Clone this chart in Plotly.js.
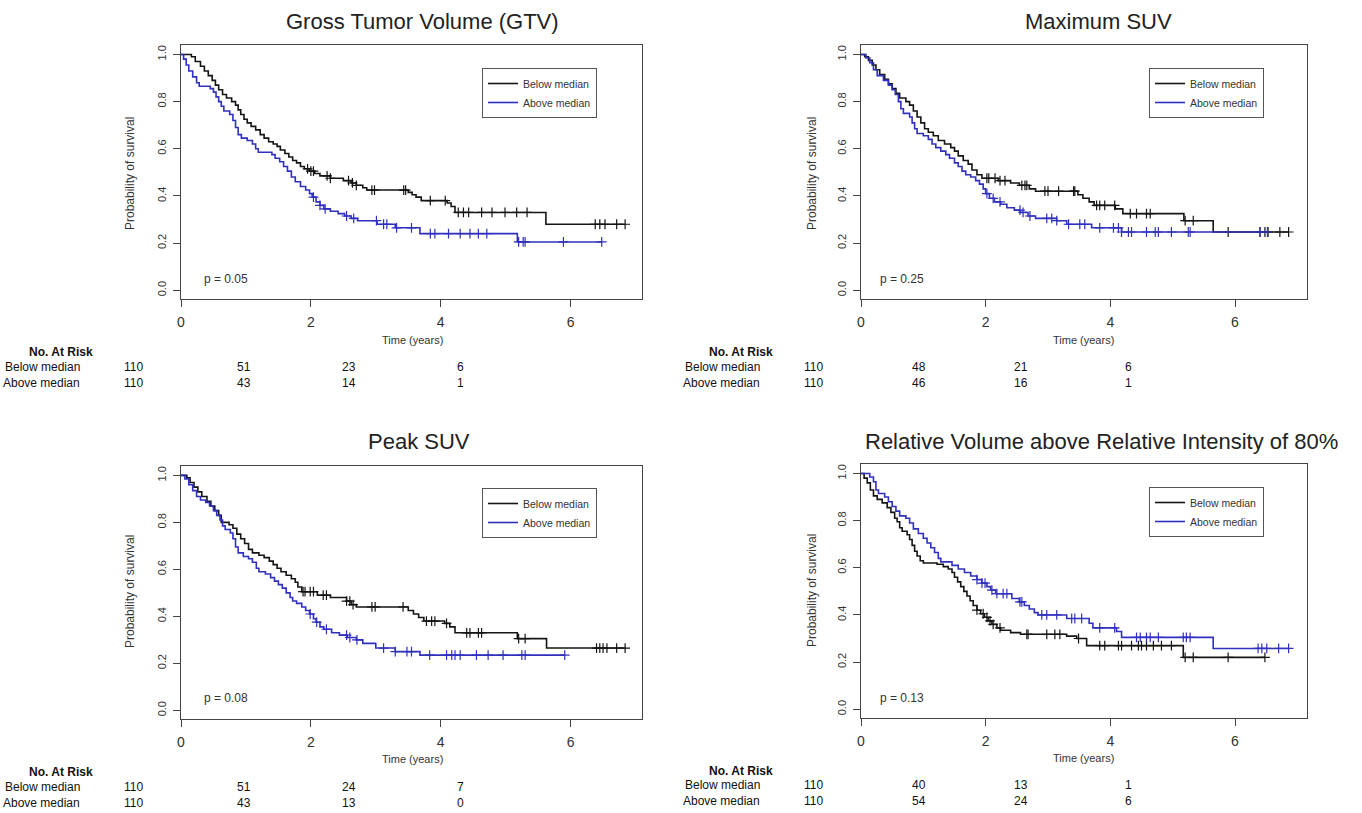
<!DOCTYPE html>
<html>
<head>
<meta charset="utf-8">
<script src="https://cdn.plot.ly/plotly-3.0.1.min.js"></script>
<style>
html,body{margin:0;padding:0;background:#fff;}
#chart{width:1362px;height:813px;}
</style>
</head>
<body>
<div id="chart"></div>
<script>
// ---------------- DATA ----------------
const panelTitles = ["Gross Tumor Volume (GTV)", "Maximum SUV", "Peak SUV", "Relative Volume above Relative Intensity of 80%"];
const pValues = ["0.05", "0.25", "0.08", "0.13"];
const groupNames = ["Below median", "Above median"];
const xTickVals = [0, 2, 4, 6];
const yTickVals = [0, 0.2, 0.4, 0.6, 0.8, 1.0];

// numbers at risk (at 0, 2, 4, 6 years)
const gtvRiskBelow = [110, 51, 23, 6];
const gtvRiskAbove = [110, 43, 14, 1];
const maxRiskBelow = [110, 48, 21, 6];
const maxRiskAbove = [110, 46, 16, 1];
const peakRiskBelow = [110, 51, 24, 7];
const peakRiskAbove = [110, 43, 13, 0];
const rvRiskBelow = [110, 40, 13, 1];
const rvRiskAbove = [110, 54, 24, 6];

// Panel 1: GTV
const gtvBelowTimes = [0.16,0.22,0.30,0.36,0.42,0.48,0.53,0.58,0.64,0.70,0.78,0.84,0.88,0.92,0.97,1.02,1.08,1.15,1.22,1.28,1.35,1.42,1.48,1.53,1.60,1.66,1.72,1.78,1.84,1.90,1.98,2.06,2.14,2.30,2.50,2.62,2.70,2.80,2.86,3.50,3.56,3.62,3.70,4.10,4.16,4.22,5.62];
const gtvBelowSurv  = [0.99,0.97,0.95,0.93,0.91,0.89,0.87,0.85,0.83,0.815,0.80,0.785,0.765,0.745,0.725,0.71,0.695,0.68,0.66,0.645,0.63,0.62,0.61,0.595,0.58,0.565,0.55,0.54,0.525,0.515,0.505,0.495,0.485,0.475,0.465,0.455,0.445,0.435,0.425,0.415,0.405,0.395,0.38,0.37,0.355,0.33,0.28];
const gtvBelowCens  = [1.95,2.0,2.04,2.25,2.3,2.58,2.64,2.7,2.94,2.98,3.43,3.46,3.84,4.07,4.27,4.35,4.43,4.63,4.79,4.99,5.17,5.33,6.38,6.45,6.53,6.71,6.84];
const gtvAboveTimes = [0.04,0.08,0.12,0.18,0.24,0.28,0.45,0.50,0.54,0.58,0.62,0.66,0.75,0.80,0.84,0.88,0.93,1.02,1.10,1.15,1.19,1.40,1.45,1.52,1.58,1.64,1.70,1.76,1.84,1.92,1.98,2.02,2.08,2.14,2.20,2.30,2.42,2.52,2.62,2.72,3.02,3.30,3.68,5.18];
const gtvAboveSurv  = [0.98,0.955,0.93,0.905,0.88,0.865,0.855,0.84,0.82,0.80,0.78,0.76,0.745,0.72,0.69,0.66,0.645,0.635,0.62,0.60,0.585,0.575,0.56,0.545,0.525,0.505,0.48,0.46,0.44,0.425,0.41,0.395,0.375,0.36,0.345,0.335,0.325,0.315,0.305,0.295,0.28,0.265,0.24,0.205];
const gtvAboveCens  = [2.04,2.14,2.22,2.55,2.66,3.01,3.12,3.17,3.32,3.55,3.84,3.91,4.12,4.3,4.45,4.58,4.71,5.2,5.27,5.3,5.89,6.48];

// Panel 2: Maximum SUV
const maxBelowTimes = [0.06,0.12,0.18,0.24,0.30,0.38,0.44,0.50,0.56,0.62,0.72,0.78,0.84,0.90,0.96,1.02,1.08,1.16,1.24,1.34,1.44,1.50,1.56,1.64,1.72,1.78,1.86,1.94,2.20,2.40,2.54,2.70,2.80,3.48,3.56,3.66,3.74,4.08,4.20,5.18,5.65];
const maxBelowSurv  = [0.99,0.975,0.955,0.935,0.915,0.895,0.875,0.855,0.835,0.815,0.80,0.785,0.76,0.735,0.71,0.685,0.67,0.655,0.635,0.62,0.605,0.59,0.57,0.55,0.535,0.51,0.49,0.475,0.465,0.455,0.445,0.43,0.42,0.405,0.39,0.375,0.36,0.345,0.325,0.295,0.247];
const maxBelowCens  = [2.02,2.05,2.15,2.23,2.31,2.58,2.63,2.66,2.95,3.0,3.17,3.41,3.43,3.78,3.83,3.91,4.07,4.32,4.42,4.58,4.64,5.2,5.33,5.89,6.4,6.48,6.53,6.72,6.86];
const maxAboveTimes = [0.08,0.14,0.20,0.26,0.36,0.44,0.50,0.55,0.60,0.64,0.68,0.78,0.82,0.86,0.90,1.00,1.08,1.14,1.20,1.28,1.36,1.42,1.50,1.56,1.62,1.68,1.76,1.84,1.90,1.96,2.00,2.06,2.14,2.24,2.34,2.46,2.56,2.68,2.80,3.14,3.30,3.70,4.18];
const maxAboveSurv  = [0.985,0.965,0.935,0.91,0.89,0.87,0.85,0.83,0.80,0.77,0.75,0.735,0.71,0.685,0.665,0.655,0.64,0.62,0.605,0.59,0.575,0.56,0.54,0.525,0.505,0.49,0.48,0.465,0.45,0.43,0.41,0.39,0.375,0.365,0.35,0.34,0.33,0.315,0.305,0.295,0.28,0.265,0.247];
const maxAboveCens  = [2.02,2.12,2.23,2.55,2.6,2.71,2.98,3.06,3.14,3.33,3.51,3.59,3.83,4.05,4.13,4.18,4.29,4.34,4.58,4.72,4.77,4.98,5.25,5.28,6.4,6.52];

// Panel 3: Peak SUV
const peakBelowTimes = [0.09,0.14,0.20,0.26,0.32,0.40,0.46,0.52,0.58,0.62,0.74,0.80,0.86,0.92,0.98,1.04,1.10,1.20,1.28,1.36,1.42,1.48,1.54,1.62,1.70,1.76,1.80,1.86,2.10,2.30,2.55,2.62,2.70,3.50,3.58,3.66,3.74,4.06,4.14,4.22,5.18,5.63];
const peakBelowSurv  = [0.99,0.97,0.95,0.93,0.91,0.89,0.87,0.85,0.83,0.80,0.79,0.775,0.75,0.73,0.71,0.685,0.67,0.66,0.65,0.635,0.62,0.605,0.59,0.575,0.56,0.545,0.525,0.505,0.49,0.48,0.465,0.45,0.44,0.425,0.41,0.395,0.38,0.37,0.355,0.33,0.305,0.265];
const peakBelowCens  = [1.88,1.91,1.99,2.04,2.19,2.24,2.55,2.6,2.65,2.94,2.99,3.42,3.78,3.86,3.91,4.09,4.4,4.45,4.58,4.63,5.2,5.3,6.4,6.45,6.5,6.56,6.71,6.84];
const peakAboveTimes = [0.06,0.12,0.18,0.24,0.30,0.38,0.44,0.50,0.55,0.60,0.64,0.68,0.76,0.80,0.84,0.88,0.96,1.04,1.10,1.16,1.20,1.30,1.38,1.44,1.50,1.56,1.62,1.68,1.72,1.78,1.86,1.92,1.98,2.04,2.08,2.14,2.20,2.32,2.44,2.56,2.70,2.80,3.00,3.30,3.68];
const peakAboveSurv  = [0.985,0.96,0.935,0.91,0.895,0.885,0.87,0.85,0.83,0.81,0.785,0.77,0.755,0.73,0.695,0.67,0.655,0.645,0.63,0.605,0.59,0.58,0.565,0.55,0.535,0.52,0.50,0.48,0.465,0.455,0.44,0.425,0.41,0.39,0.375,0.355,0.345,0.33,0.32,0.31,0.30,0.285,0.265,0.25,0.235];
const peakAboveCens  = [1.99,2.09,2.24,2.55,2.6,2.71,3.12,3.3,3.48,3.55,3.83,4.09,4.17,4.22,4.3,4.55,4.73,4.96,5.25,5.3,5.91];

// Panel 4: Relative volume above relative intensity of 80%
const rvBelowTimes = [0.05,0.10,0.15,0.20,0.26,0.34,0.42,0.48,0.54,0.58,0.62,0.66,0.74,0.78,0.82,0.86,0.90,0.95,1.00,1.22,1.32,1.40,1.46,1.50,1.55,1.60,1.65,1.70,1.75,1.80,1.86,1.92,1.98,2.04,2.10,2.18,2.24,2.40,2.56,3.30,3.46,3.62,5.17];
const rvBelowSurv  = [0.98,0.96,0.93,0.905,0.89,0.875,0.855,0.835,0.81,0.795,0.77,0.755,0.74,0.72,0.695,0.67,0.65,0.63,0.62,0.615,0.605,0.595,0.58,0.56,0.54,0.52,0.50,0.48,0.46,0.44,0.42,0.405,0.39,0.375,0.36,0.345,0.335,0.325,0.318,0.31,0.30,0.27,0.22];
const rvBelowCens  = [1.86,1.96,2.02,2.07,2.12,2.23,2.66,2.68,2.98,3.11,3.19,3.49,3.83,3.91,4.13,4.18,4.34,4.45,4.5,4.58,4.69,4.82,4.98,5.2,5.33,5.89,6.48];
const rvAboveTimes = [0.14,0.20,0.24,0.28,0.38,0.44,0.50,0.56,0.62,0.72,0.78,0.84,0.92,1.00,1.06,1.12,1.18,1.24,1.28,1.46,1.56,1.66,1.76,1.86,1.94,2.02,2.08,2.16,2.42,2.54,2.62,2.70,2.78,2.84,3.30,3.66,3.72,4.10,4.18,5.65];
const rvAboveSurv  = [0.985,0.965,0.93,0.915,0.90,0.88,0.86,0.84,0.82,0.81,0.79,0.765,0.745,0.725,0.705,0.685,0.665,0.64,0.625,0.61,0.595,0.58,0.565,0.55,0.535,0.52,0.505,0.49,0.47,0.455,0.44,0.425,0.41,0.40,0.385,0.365,0.345,0.33,0.305,0.258];
const rvAboveCens  = [1.86,1.94,1.99,2.1,2.18,2.28,2.34,2.55,2.58,2.9,2.98,3.14,3.38,3.43,3.54,3.83,4.07,4.42,4.48,4.58,4.64,4.77,5.17,5.22,5.28,6.37,6.43,6.51,6.7,6.86];

// ---------------- BUILD ----------------
const W = 1362, H = 813;
const FONT = "Liberation Sans, Arial, Helvetica, sans-serif";
const colBelow = "#151515";
const colAbove = "#3030bf";
const px = p => p / W;
const py = p => 1 - p / H;

const panels = [
  {below:[gtvBelowTimes, gtvBelowSurv, gtvBelowCens], above:[gtvAboveTimes, gtvAboveSurv, gtvAboveCens], risk:[gtvRiskBelow, gtvRiskAbove]},
  {below:[maxBelowTimes, maxBelowSurv, maxBelowCens], above:[maxAboveTimes, maxAboveSurv, maxAboveCens], risk:[maxRiskBelow, maxRiskAbove]},
  {below:[peakBelowTimes, peakBelowSurv, peakBelowCens], above:[peakAboveTimes, peakAboveSurv, peakAboveCens], risk:[peakRiskBelow, peakRiskAbove]},
  {below:[rvBelowTimes, rvBelowSurv, rvBelowCens], above:[rvAboveTimes, rvAboveSurv, rvAboveCens], risk:[rvRiskBelow, rvRiskAbove]}
];

// layout geometry (pixels)
const geom = [
  {x0:181, x1:642, y0:45,  y1:299, xmax:7.10, legend:[482,68],  title:[422,22],  p:[202,279], xt:[412,340], yt:[130,174], riskX:[133,244,349,460], riskHead:[61,352], riskLabelX:82, riskY:[367,383]},
  {x0:861, x1:1307, y0:45, y1:299, xmax:7.155, legend:[1149,68], title:[1098,22], p:[878,279], xt:[1083,340], yt:[812,174], riskX:[813,919,1021,1128], riskHead:[741,352], riskLabelX:762, riskY:[367,383]},
  {x0:181, x1:642, y0:466, y1:719, xmax:7.10, legend:[482,488], title:[419,442], p:[202,698], xt:[412,759], yt:[130,592], riskX:[133,244,349,460], riskHead:[61,772], riskLabelX:82, riskY:[787,803]},
  {x0:861, x1:1307, y0:464, y1:718, xmax:7.155, legend:[1149,487], title:[1101,441], p:[878,698], xt:[1083,758], yt:[812,591], riskX:[813,919,1021,1128], riskHead:[741,771], riskLabelX:762, riskY:[785,801]}
];

function stepValue(times, surv, t) {
  let v = 1;
  for (let i = 0; i < times.length; i++) { if (times[i] <= t) v = surv[i]; else break; }
  return v;
}

const traces = [];
const layout = {
  width: W, height: H,
  margin: {l:0, r:0, t:0, b:0},
  paper_bgcolor: "#fff", plot_bgcolor: "#fff",
  font: {family: FONT, color: "#222"},
  showlegend: true,
  annotations: []
};

panels.forEach((pan, i) => {
  const g = geom[i];
  const sfx = i === 0 ? "" : String(i + 1);
  const xa = "x" + sfx, ya = "y" + sfx;
  const legId = "legend" + sfx;

  [["below", colBelow, 0], ["above", colAbove, 1]].forEach(([key, col, gi]) => {
    const [T, S, C] = pan[key];
    const end = Math.max(...C, T[T.length - 1]);
    traces.push({
      type: "scatter", mode: "lines",
      x: [0, ...T, end], y: [1, ...S, S[S.length - 1]],
      line: {shape: "hv", color: col, width: 1.6},
      name: groupNames[gi], xaxis: xa, yaxis: ya, legend: legId,
      hoverinfo: "x+y"
    });
    traces.push({
      type: "scatter", mode: "markers",
      x: C, y: C.map(t => stepValue(T, S, t)),
      marker: {symbol: "cross-thin", size: 7, color: col, line: {color: col, width: 1.2}},
      showlegend: false, xaxis: xa, yaxis: ya, hoverinfo: "x+y"
    });
  });

  layout["xaxis" + sfx] = {
    domain: [px(g.x0), px(g.x1)], anchor: ya,
    range: [0, g.xmax], tickvals: xTickVals, ticktext: xTickVals.map(String),
    ticks: "outside", ticklen: 7, tickcolor: "#444", tickwidth: 1,
    ticklabelstandoff: 3,
    showline: true, mirror: true, linecolor: "#444", linewidth: 1,
    showgrid: false, zeroline: false, fixedrange: true,
    tickfont: {size: 14, family: FONT, color: "#333"}
  };
  layout["yaxis" + sfx] = {
    domain: [py(g.y1), py(g.y0)], anchor: xa,
    range: [-0.037, 1.04], tickvals: yTickVals, ticktext: yTickVals.map(v => v.toFixed(1)),
    tickangle: -90,
    ticks: "outside", ticklen: 7, tickcolor: "#444", tickwidth: 1,
    ticklabelstandoff: 3,
    showline: true, mirror: true, linecolor: "#444", linewidth: 1,
    showgrid: false, zeroline: false, fixedrange: true,
    tickfont: {size: 11, family: FONT, color: "#333"}
  };
  layout[legId] = {
    x: px(g.legend[0]), y: py(g.legend[1]), xanchor: "left", yanchor: "top",
    xref: "paper", yref: "paper",
    bordercolor: "#555", borderwidth: 1, bgcolor: "#fff",
    font: {size: 10.5, family: FONT, color: "#333"},
    itemwidth: 30, tracegroupgap: 0, traceorder: "normal"
  };

  const A = layout.annotations;
  A.push({text: panelTitles[i], x: px(g.title[0]), y: py(g.title[1]), xref: "paper", yref: "paper",
          xanchor: "center", yanchor: "middle", showarrow: false, font: {size: 22, family: FONT, color: "#222"}});
  A.push({text: "p = " + pValues[i], x: px(g.p[0]), y: py(g.p[1]), xref: "paper", yref: "paper",
          xanchor: "left", yanchor: "middle", showarrow: false, font: {size: 12, family: FONT, color: "#333"}});
  A.push({text: "Time (years)", x: px(g.xt[0]), y: py(g.xt[1]), xref: "paper", yref: "paper",
          xanchor: "center", yanchor: "middle", showarrow: false, font: {size: 11, family: FONT, color: "#333"}});
  A.push({text: "Probability of survival", x: px(g.yt[0]), y: py(g.yt[1]), xref: "paper", yref: "paper",
          xanchor: "center", yanchor: "middle", textangle: -90, showarrow: false, font: {size: 12, family: FONT, color: "#333"}});
  A.push({text: "<b>No. At Risk</b>", x: px(g.riskHead[0]), y: py(g.riskHead[1]), xref: "paper", yref: "paper",
          xanchor: "center", yanchor: "middle", showarrow: false, font: {size: 12, family: FONT, color: "#111"}});
  groupNames.forEach((nm, gi) => {
    A.push({text: nm, x: px(g.riskLabelX), y: py(g.riskY[gi]), xref: "paper", yref: "paper",
            xanchor: "right", yanchor: "middle", showarrow: false, font: {size: 12, family: FONT, color: "#111"}});
    pan.risk[gi].forEach((n, k) => {
      A.push({text: String(n), x: px(g.riskX[k]), y: py(g.riskY[gi]), xref: "paper", yref: "paper",
              xanchor: "center", yanchor: "middle", showarrow: false, font: {size: 12, family: FONT, color: "#111"}});
    });
  });
});

Plotly.newPlot("chart", traces, layout, {displayModeBar: false, staticPlot: true});
</script>
</body>
</html>
